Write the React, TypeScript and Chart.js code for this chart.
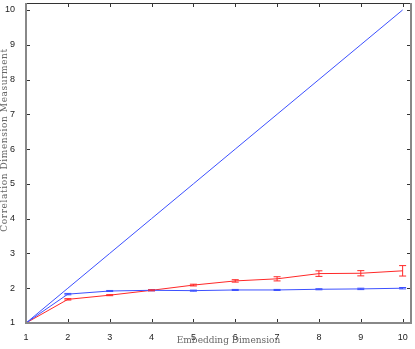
import React, { useEffect, useRef } from "react";
import { Chart, registerables } from "chart.js";

Chart.register(...registerables);

const dims = [1, 2, 3, 4, 5, 6, 7, 8, 9, 10];
const identity = [1, 2, 3, 4, 5, 6, 7, 8, 9, 10];
const blueValues = [1, 1.83, 1.92, 1.94, 1.93, 1.95, 1.95, 1.97, 1.98, 2.0];
const blueErrors = [0, 0.02, 0.015, 0.015, 0.015, 0.015, 0.015, 0.015, 0.02, 0.02];
const redValues = [1, 1.68, 1.8, 1.94, 2.09, 2.21, 2.27, 2.42, 2.43, 2.5];
const redErrors = [0, 0.02, 0.015, 0.015, 0.025, 0.035, 0.06, 0.08, 0.075, 0.15];
const tickValues = [1, 2, 3, 4, 5, 6, 7, 8, 9, 10];
const xTitle = "Embedding Dimension";
const yTitle = "Correlation Dimension Measurment";

const errorBarPlugin = {
  id: "errorBars",
  afterDatasetsDraw(chart: any) {
    const ctx = chart.ctx;
    const ys = chart.scales.y;
    chart.data.datasets.forEach((ds: any, i: number) => {
      if (!ds.errors) return;
      const meta = chart.getDatasetMeta(i);
      ctx.save();
      ctx.strokeStyle = ds.borderColor;
      ctx.lineWidth = 1;
      meta.data.forEach((pt: any, j: number) => {
        const e = ds.errors[j];
        if (!e) return;
        const v = ds.data[j].y;
        const x = pt.x;
        const yt = ys.getPixelForValue(v + e);
        const yb = ys.getPixelForValue(v - e);
        const hw = 3.5;
        ctx.beginPath();
        ctx.moveTo(x, yt);
        ctx.lineTo(x, yb);
        ctx.moveTo(x - hw, yt);
        ctx.lineTo(x + hw, yt);
        ctx.moveTo(x - hw, yb);
        ctx.lineTo(x + hw, yb);
        ctx.stroke();
      });
      ctx.restore();
    });
  },
};

const boxPlugin = {
  id: "boxTicks",
  afterDraw(chart: any) {
    const ctx = chart.ctx;
    const { left, right, top, bottom } = chart.chartArea;
    const xs = chart.scales.x;
    const ys = chart.scales.y;
    ctx.save();
    ctx.strokeStyle = "#333";
    ctx.lineWidth = 1;
    const tl = 4;
    ctx.beginPath();
    tickValues.forEach((v) => {
      const px = Math.round(xs.getPixelForValue(v)) + 0.5;
      ctx.moveTo(px, bottom);
      ctx.lineTo(px, bottom - tl);
      ctx.moveTo(px, top);
      ctx.lineTo(px, top + tl);
      const py = Math.round(ys.getPixelForValue(v)) + 0.5;
      ctx.moveTo(left, py);
      ctx.lineTo(left + tl, py);
      ctx.moveTo(right, py);
      ctx.lineTo(right - tl, py);
    });
    ctx.stroke();
    ctx.beginPath();
    ctx.moveTo(left, Math.round(top) + 0.5);
    ctx.lineTo(right, Math.round(top) + 0.5);
    ctx.stroke();
    ctx.strokeStyle = "#888";
    ctx.lineWidth = 2;
    ctx.beginPath();
    ctx.moveTo(Math.round(left), top);
    ctx.lineTo(Math.round(left), Math.round(bottom));
    ctx.lineTo(Math.round(right), Math.round(bottom));
    ctx.lineTo(Math.round(right), top);
    ctx.stroke();
    ctx.fillStyle = "#666";
    ctx.font = "9px 'DejaVu Serif'";
    ctx.textAlign = "center";
    ctx.textBaseline = "middle";
    ctx.fillText(xTitle, (left + right) / 2 + 10, bottom + 18);
    ctx.translate(5, (top + bottom) / 2 - 23);
    ctx.rotate(-Math.PI / 2);
    (ctx as any).letterSpacing = "0.6px";
    ctx.fillText(yTitle, 0, 0);
    ctx.restore();
  },
};

export default function App() {
  const ref = useRef<HTMLCanvasElement>(null);
  useEffect(() => {
    document.body.style.margin = "0";
    const chart = new Chart(ref.current!, {
      type: "line",
      data: {
        datasets: [
          {
            data: dims.map((d, i) => ({ x: d, y: identity[i] })),
            borderColor: "rgb(60,80,255)",
            borderWidth: 1,
            pointRadius: 0,
            tension: 0,
          },
          {
            data: dims.map((d, i) => ({ x: d, y: blueValues[i] })),
            errors: blueErrors,
            borderColor: "rgb(60,80,255)",
            borderWidth: 1,
            pointRadius: 0,
            tension: 0,
          } as any,
          {
            data: dims.map((d, i) => ({ x: d, y: redValues[i] })),
            errors: redErrors,
            borderColor: "rgb(255,40,40)",
            borderWidth: 1,
            pointRadius: 0,
            tension: 0,
          } as any,
        ],
      },
      options: {
        animation: false,
        responsive: false,
        layout: { padding: { top: 3, right: 4, left: 0, bottom: 0 } },
        plugins: { legend: { display: false }, tooltip: { enabled: false } },
        scales: {
          x: {
            type: "linear",
            min: 1,
            max: 10.2,
            grid: { display: false },
            border: { display: false },
            afterBuildTicks: (s: any) => {
              s.ticks = tickValues.map((v) => ({ value: v }));
            },
            afterFit: (s: any) => {
              s.height = 26;
              s.paddingLeft = 0;
              s.paddingRight = 0;
            },
            ticks: {
              padding: 1,
              maxRotation: 0,
              autoSkip: false,
              color: "#222",
              font: { family: "'Liberation Sans'", size: 9 },
            },
          },
          y: {
            type: "linear",
            min: 1,
            max: 10.2,
            grid: { display: false },
            border: { display: false },
            afterBuildTicks: (s: any) => {
              s.ticks = tickValues.map((v) => ({ value: v }));
            },
            afterFit: (s: any) => {
              s.width = 26;
              s.paddingTop = 0;
              s.paddingBottom = 0;
            },
            ticks: {
              padding: 3,
              autoSkip: false,
              color: "#222",
              font: { family: "'Liberation Sans'", size: 9 },
            },
          },
        },
      },
      plugins: [errorBarPlugin, boxPlugin],
    });
    return () => chart.destroy();
  }, []);
  return (
    <div style={{ width: 415, height: 349, background: "#fff" }}>
      <canvas ref={ref} width={415} height={349} />
    </div>
  );
}
